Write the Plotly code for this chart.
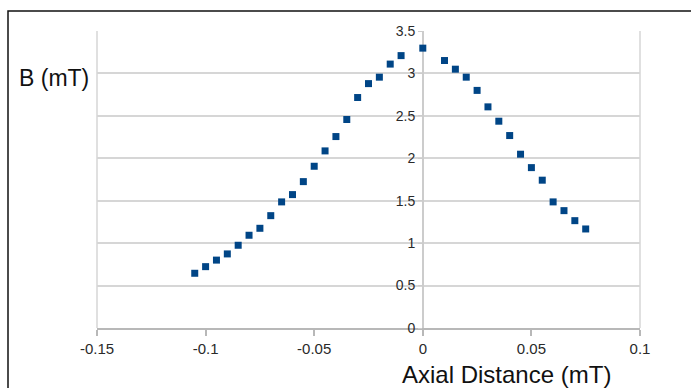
import plotly.graph_objects as go

# Data
axial_distance = [-0.105, -0.100, -0.095, -0.090, -0.085, -0.080, -0.075, -0.070, -0.065,
                  -0.060, -0.055, -0.050, -0.045, -0.040, -0.035, -0.030, -0.025, -0.020,
                  -0.015, -0.010, 0.000, 0.010, 0.015, 0.020, 0.025, 0.030, 0.035, 0.040,
                  0.045, 0.050, 0.055, 0.060, 0.065, 0.070, 0.075]
b_field = [0.645, 0.723, 0.80, 0.873, 0.975, 1.093, 1.175, 1.324, 1.486,
           1.572, 1.725, 1.906, 2.087, 2.256, 2.457, 2.716, 2.88, 2.956,
           3.11, 3.21, 3.298, 3.152, 3.05, 2.956, 2.80, 2.606, 2.437, 2.268,
           2.048, 1.89, 1.742, 1.486, 1.383, 1.265, 1.167]

x_ticks = [-0.15, -0.1, -0.05, 0, 0.05, 0.1]
x_tick_labels = ["-0.15", "-0.1", "-0.05", "0", "0.05", "0.1"]
y_ticks = [0, 0.5, 1, 1.5, 2, 2.5, 3, 3.5]
y_tick_labels = ["0", "0.5", "1", "1.5", "2", "2.5", "3", "3.5"]

W, H = 691, 388
ml, mr, mt, mb = 97, 51, 31, 60
pw, ph = W - ml - mr, H - mt - mb

def px_x(X):
    return (X - ml) / pw

def px_y(Y):
    return (H - mb - Y) / ph

fig = go.Figure()
fig.add_trace(go.Scatter(
    x=axial_distance, y=b_field, mode="markers",
    marker=dict(symbol="square", size=7, color="#004586", line=dict(width=0)),
    showlegend=False, cliponaxis=False,
))

grid_c = "#d6d6d6"
font_fam = "Liberation Sans, Arial, sans-serif"

fig.update_layout(
    width=W, height=H,
    margin=dict(l=ml, r=mr, t=mt, b=mb, pad=0),
    paper_bgcolor="white", plot_bgcolor="white",
    font=dict(family=font_fam, size=14, color="#333333"),
    xaxis=dict(
        range=[-0.15, 0.1], tickvals=x_ticks, ticktext=x_tick_labels,
        showgrid=False, zeroline=False,
        showline=True, linecolor="#b8b8b8", linewidth=1.5,
        ticks="outside", ticklen=6, tickcolor="#b8b8b8", tickwidth=1.5,
        tickfont=dict(size=15, color="#2a2a2a"),
        layer="below traces",
    ),
    yaxis=dict(
        range=[0, 3.5], tickvals=y_ticks, ticktext=y_tick_labels,
        anchor="free", position=0.6,
        showgrid=True, gridcolor=grid_c, gridwidth=1.5, zeroline=False,
        showline=True, linecolor="#cccccc", linewidth=1.5,
        ticks="outside", ticklen=4, tickcolor="#cccccc",
        tickfont=dict(size=14, color="#2a2a2a"),
        layer="below traces",
    ),
    shapes=[
        dict(type="line", xref="x domain", yref="y domain", x0=0, x1=0, y0=0, y1=1,
             line=dict(color=grid_c, width=1.5), layer="below"),
        dict(type="line", xref="x domain", yref="y domain", x0=1, x1=1, y0=0, y1=1,
             line=dict(color=grid_c, width=1.5), layer="below"),
        dict(type="rect", xref="paper", yref="paper",
             x0=px_x(8), x1=px_x(720), y0=px_y(420), y1=px_y(11),
             line=dict(color="#111111", width=1.5), fillcolor="rgba(0,0,0,0)"),
    ],
    annotations=[
        dict(text="B (mT)", xref="paper", yref="paper", x=px_x(54), y=px_y(78),
             xanchor="center", yanchor="middle", showarrow=False,
             font=dict(size=23, color="#111111", family=font_fam)),
        dict(text="Axial Distance (mT)", xref="paper", yref="paper", x=px_x(506), y=px_y(374),
             xanchor="center", yanchor="middle", showarrow=False,
             font=dict(size=24, color="#111111", family=font_fam)),
    ],
)

fig.write_html("out.html", config={"displayModeBar": False},
               post_script="document.body.style.margin='0';")
